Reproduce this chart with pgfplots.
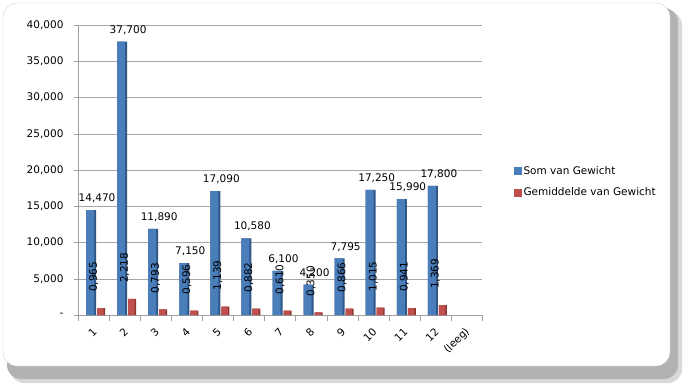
\documentclass[border=0pt]{standalone}
\usepackage{pgfplots}
\pgfplotsset{compat=1.18}
\usepackage{pgfplotstable}
\usepackage{fontspec}
\setmainfont{DejaVu Sans}
\definecolor{blueF}{HTML}{4A7EBB}
\definecolor{blueS}{HTML}{2F5788}
\definecolor{redF}{HTML}{C0504D}
\definecolor{redS}{HTML}{8E3532}
\newcommand{\chfont}{\fontsize{10.5}{12.5}\selectfont}

\pgfplotstableread{
x y lab
0 14470 14,470
1 37700 37,700
2 11890 11,890
3 7150 7,150
4 17090 17,090
5 10580 10,580
6 6100 6,100
7 4200 4,200
8 7795 7,795
9 17250 17,250
10 15990 15,990
11 17800 17,800
}\somdata

\pgfplotstableread{
x y lab
0 965 0,965
1 2218 2,218
2 793 0,793
3 596 0,596
4 1139 1,139
5 882 0,882
6 610 0,610
7 350 0,350
8 866 0,866
9 1015 1,015
10 941 0,941
11 1369 1,369
}\gemdata

\begin{document}
\begin{tikzpicture}[x=1pt,y=1pt]
\useasboundingbox (0,0) rectangle (683,384);
\fill[gray!30, rounded corners=14pt] (10,1) rectangle (682,373);
\fill[gray!60, rounded corners=14pt] (7,5) rectangle (678,376);
\fill[white, draw=gray!40, rounded corners=14pt] (3,18) rectangle (670,381);
\begin{axis}[
  at={(78pt,69pt)}, anchor=south west, scale only axis,
  width=404pt, height=290pt,
  xmin=-0.5, xmax=12.5, ymin=0, ymax=40000,
  scaled y ticks=false,
  axis x line*=bottom, axis y line*=left,
  axis line style={gray!75, -},
  tick align=outside,
  ytick={0,5000,...,40000},
  yticklabels={{-\hspace{7pt}},{5,000},{10,000},{15,000},{20,000},{25,000},{30,000},{35,000},{40,000}},
  ytick style={gray!75},
  major tick length=4pt,
  minor tick length=6pt,
  xtick={0,...,12},
  xticklabels={1,2,3,4,5,6,7,8,9,10,11,12,(leeg)},
  major x tick style={draw=none},
  minor xtick={-0.5,0.5,...,12.5},
  minor x tick style={gray!75},
  xticklabel style={xshift=1.5pt, yshift=-11pt, rotate=45, anchor=east, inner sep=0pt},
  yticklabel shift=7pt,
  ticklabel style={font=\chfont},
  ymajorgrids, grid style={gray!70},
  legend style={at={(1.079,0.52)}, anchor=north west, draw=none, fill=none,
    font=\chfont, row sep=8pt, inner sep=0pt,
    cells={anchor=west}},
  legend image code/.code={},
]
\addlegendimage{legend image code/.code={\fill[blueF] (0pt,-3.5pt) rectangle (7pt,3.5pt);}}
\addlegendentry{Som van Gewicht}
\addlegendimage{legend image code/.code={\fill[redF] (0pt,-3.5pt) rectangle (7pt,3.5pt);}}
\addlegendentry{Gemiddelde van Gewicht}

\addplot[ybar, bar width=10pt, bar shift=-2.5pt, fill=blueS, draw=none, forget plot]
  table[x=x,y=y]{\somdata};
\addplot[ybar, bar width=8pt, bar shift=-3.5pt, fill=blueF, draw=none, forget plot,
  nodes near coords, point meta=explicit symbolic,
  nodes near coords style={font=\chfont, text=black, anchor=south, inner sep=0pt, xshift=3.5pt, yshift=7pt}]
  table[x=x,y=y,meta=lab]{\somdata};
\addplot[ybar, bar width=8pt, bar shift=7.5pt, fill=redS, draw=none, forget plot]
  table[x=x,y=y]{\gemdata};
\addplot[ybar, bar width=6.5pt, bar shift=6.75pt, fill=redF, draw=none, forget plot,
  nodes near coords, point meta=explicit symbolic,
  nodes near coords style={font=\chfont, text=black, rotate=90, anchor=west, inner sep=0pt, inner xsep=16pt}]
  table[x=x,y=y,meta=lab]{\gemdata};
\end{axis}
\end{tikzpicture}
\end{document}
